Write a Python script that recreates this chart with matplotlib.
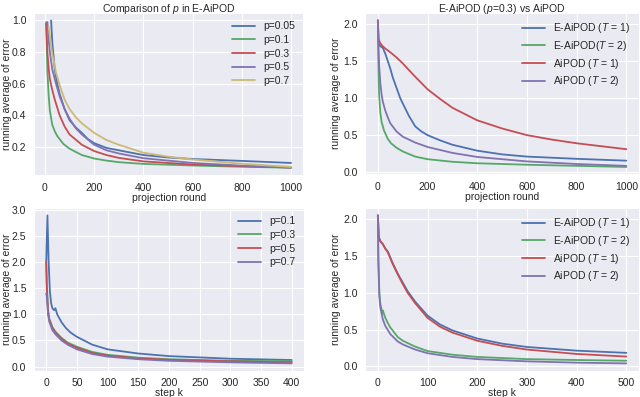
import numpy as np
import matplotlib
matplotlib.use('Agg')
import matplotlib.pyplot as plt
import seaborn as sns

sns.set_style('darkgrid')
plt.rcParams['font.family'] = ['Liberation Sans', 'DejaVu Sans']
plt.rcParams['mathtext.fontset'] = 'custom'
plt.rcParams['mathtext.it'] = 'Liberation Sans:italic'
plt.rcParams['mathtext.rm'] = 'Liberation Sans'

blue, green, red, purple, yellow = '#4C72B0', '#55A868', '#C44E52', '#8172B2', '#CCB974'

# ---- top left: comparison of p in E-AiPOD ----
p_labels_a = ['p=0.05', 'p=0.1', 'p=0.3', 'p=0.5', 'p=0.7']
a_x = {
    'p=0.05': [25, 30, 40, 50, 60, 80, 100, 125, 150, 175, 200, 250, 300, 400, 500, 600, 800, 1000],
    'p=0.1': [5, 8, 10, 15, 20, 30, 40, 50, 75, 100, 150, 200, 250, 300, 400, 600, 800, 1000],
    'p=0.3': [5, 10, 15, 20, 30, 40, 60, 80, 100, 150, 200, 250, 300, 400, 600, 800, 1000],
    'p=0.5': [10, 15, 20, 30, 45, 60, 80, 100, 125, 150, 200, 250, 300, 400, 600, 800, 1000],
    'p=0.7': [15, 20, 30, 45, 60, 80, 100, 125, 150, 200, 250, 300, 400, 500, 600, 800, 1000],
}
a_y = {
    'p=0.05': [1.0, 0.86, 0.69, 0.6, 0.535, 0.44, 0.37, 0.325, 0.29, 0.25, 0.225, 0.195, 0.18, 0.15, 0.135, 0.125, 0.113, 0.10],
    'p=0.1': [0.99, 0.8, 0.68, 0.53, 0.43, 0.34, 0.3, 0.27, 0.22, 0.19, 0.15, 0.128, 0.115, 0.105, 0.094, 0.084, 0.076, 0.07],
    'p=0.3': [0.98, 0.8, 0.7, 0.63, 0.56, 0.5, 0.4, 0.33, 0.28, 0.215, 0.175, 0.15, 0.132, 0.11, 0.09, 0.08, 0.072],
    'p=0.5': [0.99, 0.88, 0.8, 0.69, 0.6, 0.52, 0.44, 0.38, 0.32, 0.28, 0.215, 0.18, 0.16, 0.13, 0.10, 0.083, 0.07],
    'p=0.7': [0.96, 0.9, 0.79, 0.67, 0.59, 0.5, 0.44, 0.39, 0.35, 0.29, 0.245, 0.215, 0.165, 0.14, 0.122, 0.095, 0.075],
}

# ---- top right: E-AiPOD (p=0.3) vs AiPOD ----
b_labels = ['E-AiPOD ($T$ = 1)', 'E-AiPOD($T$ = 2)', 'AiPOD ($T$ = 1)', 'AiPOD ($T$ = 2)']
b_x = [
    [0, 3, 10, 20, 30, 40, 50, 60, 75, 90, 100, 125, 150, 175, 200, 250, 300, 400, 500, 600, 800, 1000],
    [0, 2, 5, 10, 15, 25, 40, 53, 75, 100, 150, 200, 300, 400, 600, 800, 1000],
    [0, 3, 10, 20, 30, 50, 75, 100, 150, 200, 250, 300, 400, 500, 600, 700, 800, 1000],
    [0, 2, 5, 10, 15, 20, 30, 40, 50, 75, 100, 150, 200, 300, 400, 600, 800, 1000],
]
b_y = [
    [2.05, 1.74, 1.7, 1.68, 1.6, 1.5, 1.4, 1.28, 1.14, 1.0, 0.93, 0.76, 0.62, 0.55, 0.50, 0.43, 0.37, 0.29, 0.24, 0.21, 0.18, 0.155],
    [2.05, 1.5, 1.05, 0.8, 0.68, 0.56, 0.45, 0.39, 0.33, 0.28, 0.21, 0.175, 0.14, 0.12, 0.10, 0.085, 0.07],
    [2.05, 1.8, 1.74, 1.7, 1.67, 1.62, 1.55, 1.47, 1.29, 1.12, 0.99, 0.87, 0.70, 0.59, 0.50, 0.44, 0.39, 0.31],
    [2.05, 1.75, 1.45, 1.2, 1.05, 0.95, 0.83, 0.74, 0.66, 0.55, 0.48, 0.40, 0.34, 0.26, 0.205, 0.145, 0.11, 0.085],
]

# ---- bottom left: step k, p values ----
c_labels = ['p=0.1', 'p=0.3', 'p=0.5', 'p=0.7']
c_x = [
    [0, 2, 4, 6, 8, 10, 13, 15, 18, 25, 32, 40, 50, 75, 100, 150, 200, 250, 300, 400],
    [0, 1, 3, 5, 10, 15, 25, 35, 50, 75, 100, 150, 200, 300, 400],
    [0, 1, 3, 5, 10, 15, 25, 35, 50, 75, 100, 150, 200, 300, 400],
    [0, 1, 3, 5, 10, 15, 25, 35, 50, 75, 100, 150, 200, 300, 400],
]
c_y = [
    [2.0, 2.9, 2.0, 1.45, 1.22, 1.12, 1.08, 1.12, 1.0, 0.85, 0.74, 0.65, 0.57, 0.42, 0.33, 0.25, 0.2, 0.175, 0.15, 0.125],
    [2.0, 1.6, 1.1, 0.92, 0.76, 0.67, 0.55, 0.46, 0.38, 0.28, 0.225, 0.17, 0.14, 0.11, 0.10],
    [2.0, 1.5, 1.05, 0.9, 0.74, 0.65, 0.53, 0.44, 0.36, 0.26, 0.21, 0.155, 0.13, 0.10, 0.08],
    [1.4, 1.35, 1.0, 0.86, 0.7, 0.62, 0.5, 0.42, 0.33, 0.24, 0.19, 0.14, 0.11, 0.08, 0.06],
]

# ---- bottom right: step k, E-AiPOD vs AiPOD ----
d_labels = ['E-AiPOD ($T$ = 1)', 'E-AiPOD ($T$ = 2)', 'AiPOD ($T$ = 1)', 'AiPOD ($T$ = 2)']
d_x = [
    [0, 2, 5, 10, 15, 20, 25, 30, 40, 50, 60, 75, 100, 125, 150, 200, 250, 300, 400, 500],
    [0, 1, 3, 5, 9, 10, 15, 20, 25, 40, 50, 75, 100, 150, 200, 300, 400, 500],
    [0, 2, 5, 10, 15, 20, 25, 30, 40, 50, 60, 75, 100, 125, 150, 200, 250, 300, 400, 500],
    [0, 1, 3, 5, 10, 15, 25, 40, 50, 75, 100, 150, 200, 300, 400, 500],
]
d_y = [
    [2.05, 1.75, 1.7, 1.66, 1.6, 1.56, 1.48, 1.40, 1.26, 1.14, 1.02, 0.88, 0.69, 0.57, 0.49, 0.38, 0.31, 0.265, 0.215, 0.185],
    [2.05, 1.5, 1.0, 0.85, 0.72, 0.76, 0.66, 0.59, 0.53, 0.4, 0.35, 0.27, 0.21, 0.16, 0.13, 0.10, 0.088, 0.078],
    [2.05, 1.75, 1.7, 1.66, 1.6, 1.55, 1.47, 1.39, 1.25, 1.12, 1.0, 0.86, 0.66, 0.54, 0.46, 0.35, 0.28, 0.23, 0.17, 0.135],
    [2.05, 1.4, 0.95, 0.8, 0.64, 0.55, 0.44, 0.34, 0.3, 0.23, 0.18, 0.13, 0.10, 0.07, 0.052, 0.042],
]

fig = plt.figure(figsize=(6.4, 3.97), dpi=100)
ax1 = fig.add_axes([0.053, 0.559, 0.421, 0.408])
ax2 = fig.add_axes([0.571, 0.561, 0.427, 0.406])
ax3 = fig.add_axes([0.053, 0.066, 0.422, 0.410])
ax4 = fig.add_axes([0.571, 0.066, 0.427, 0.410])

fs = 7.5
for lab, col in zip(p_labels_a, [blue, green, red, purple, yellow]):
    ax1.plot(a_x[lab], a_y[lab], color=col, lw=1.3, label=lab)
ax1.set_title('Comparison of $p$ in E-AiPOD', fontsize=fs, pad=1)
ax1.set_xlabel('projection round', fontsize=fs, labelpad=0)
ax1.set_xticks([0, 200, 400, 600, 800, 1000])
ax1.set_yticks([0.2, 0.4, 0.6, 0.8, 1.0])

for xs, ys, lab, col in zip(b_x, b_y, b_labels, [blue, green, red, purple]):
    ax2.plot(xs, ys, color=col, lw=1.3, label=lab)
ax2.set_title('E-AiPOD ($p$=0.3) vs AiPOD', fontsize=fs, pad=1)
ax2.set_xlabel('projection round', fontsize=fs, labelpad=0)
ax2.set_xticks([0, 200, 400, 600, 800, 1000])
ax2.set_yticks([0.0, 0.5, 1.0, 1.5, 2.0])

for xs, ys, lab, col in zip(c_x, c_y, c_labels, [blue, green, red, purple]):
    ax3.plot(xs, ys, color=col, lw=1.3, label=lab)
ax3.set_xlabel('step k', fontsize=fs, labelpad=0)
ax3.set_xticks(np.arange(0, 401, 50))

for xs, ys, lab, col in zip(d_x, d_y, d_labels, [blue, green, red, purple]):
    ax4.plot(xs, ys, color=col, lw=1.3, label=lab)
ax4.set_xlabel('step k', fontsize=fs, labelpad=0)
ax4.set_xticks([0, 100, 200, 300, 400, 500])
ax4.set_yticks([0.0, 0.5, 1.0, 1.5, 2.0])

for ax in [ax1, ax2, ax3, ax4]:
    ax.set_ylabel('running average of error', fontsize=fs)
    w = ax.get_position().width * 640
    # put the y label near the left edge of its panel, as in the original
    x_px = 12 if ax in (ax1, ax3) else 341
    ax.yaxis.set_label_coords((x_px - ax.get_position().x0 * 640) / w, 0.5)
    ax.tick_params(labelsize=fs, pad=2)
    ax.legend(loc='upper right', fontsize=fs, frameon=False,
              handlelength=2.2, labelspacing=0.35, borderaxespad=0.4)

fig.savefig('out.png', dpi=100)
